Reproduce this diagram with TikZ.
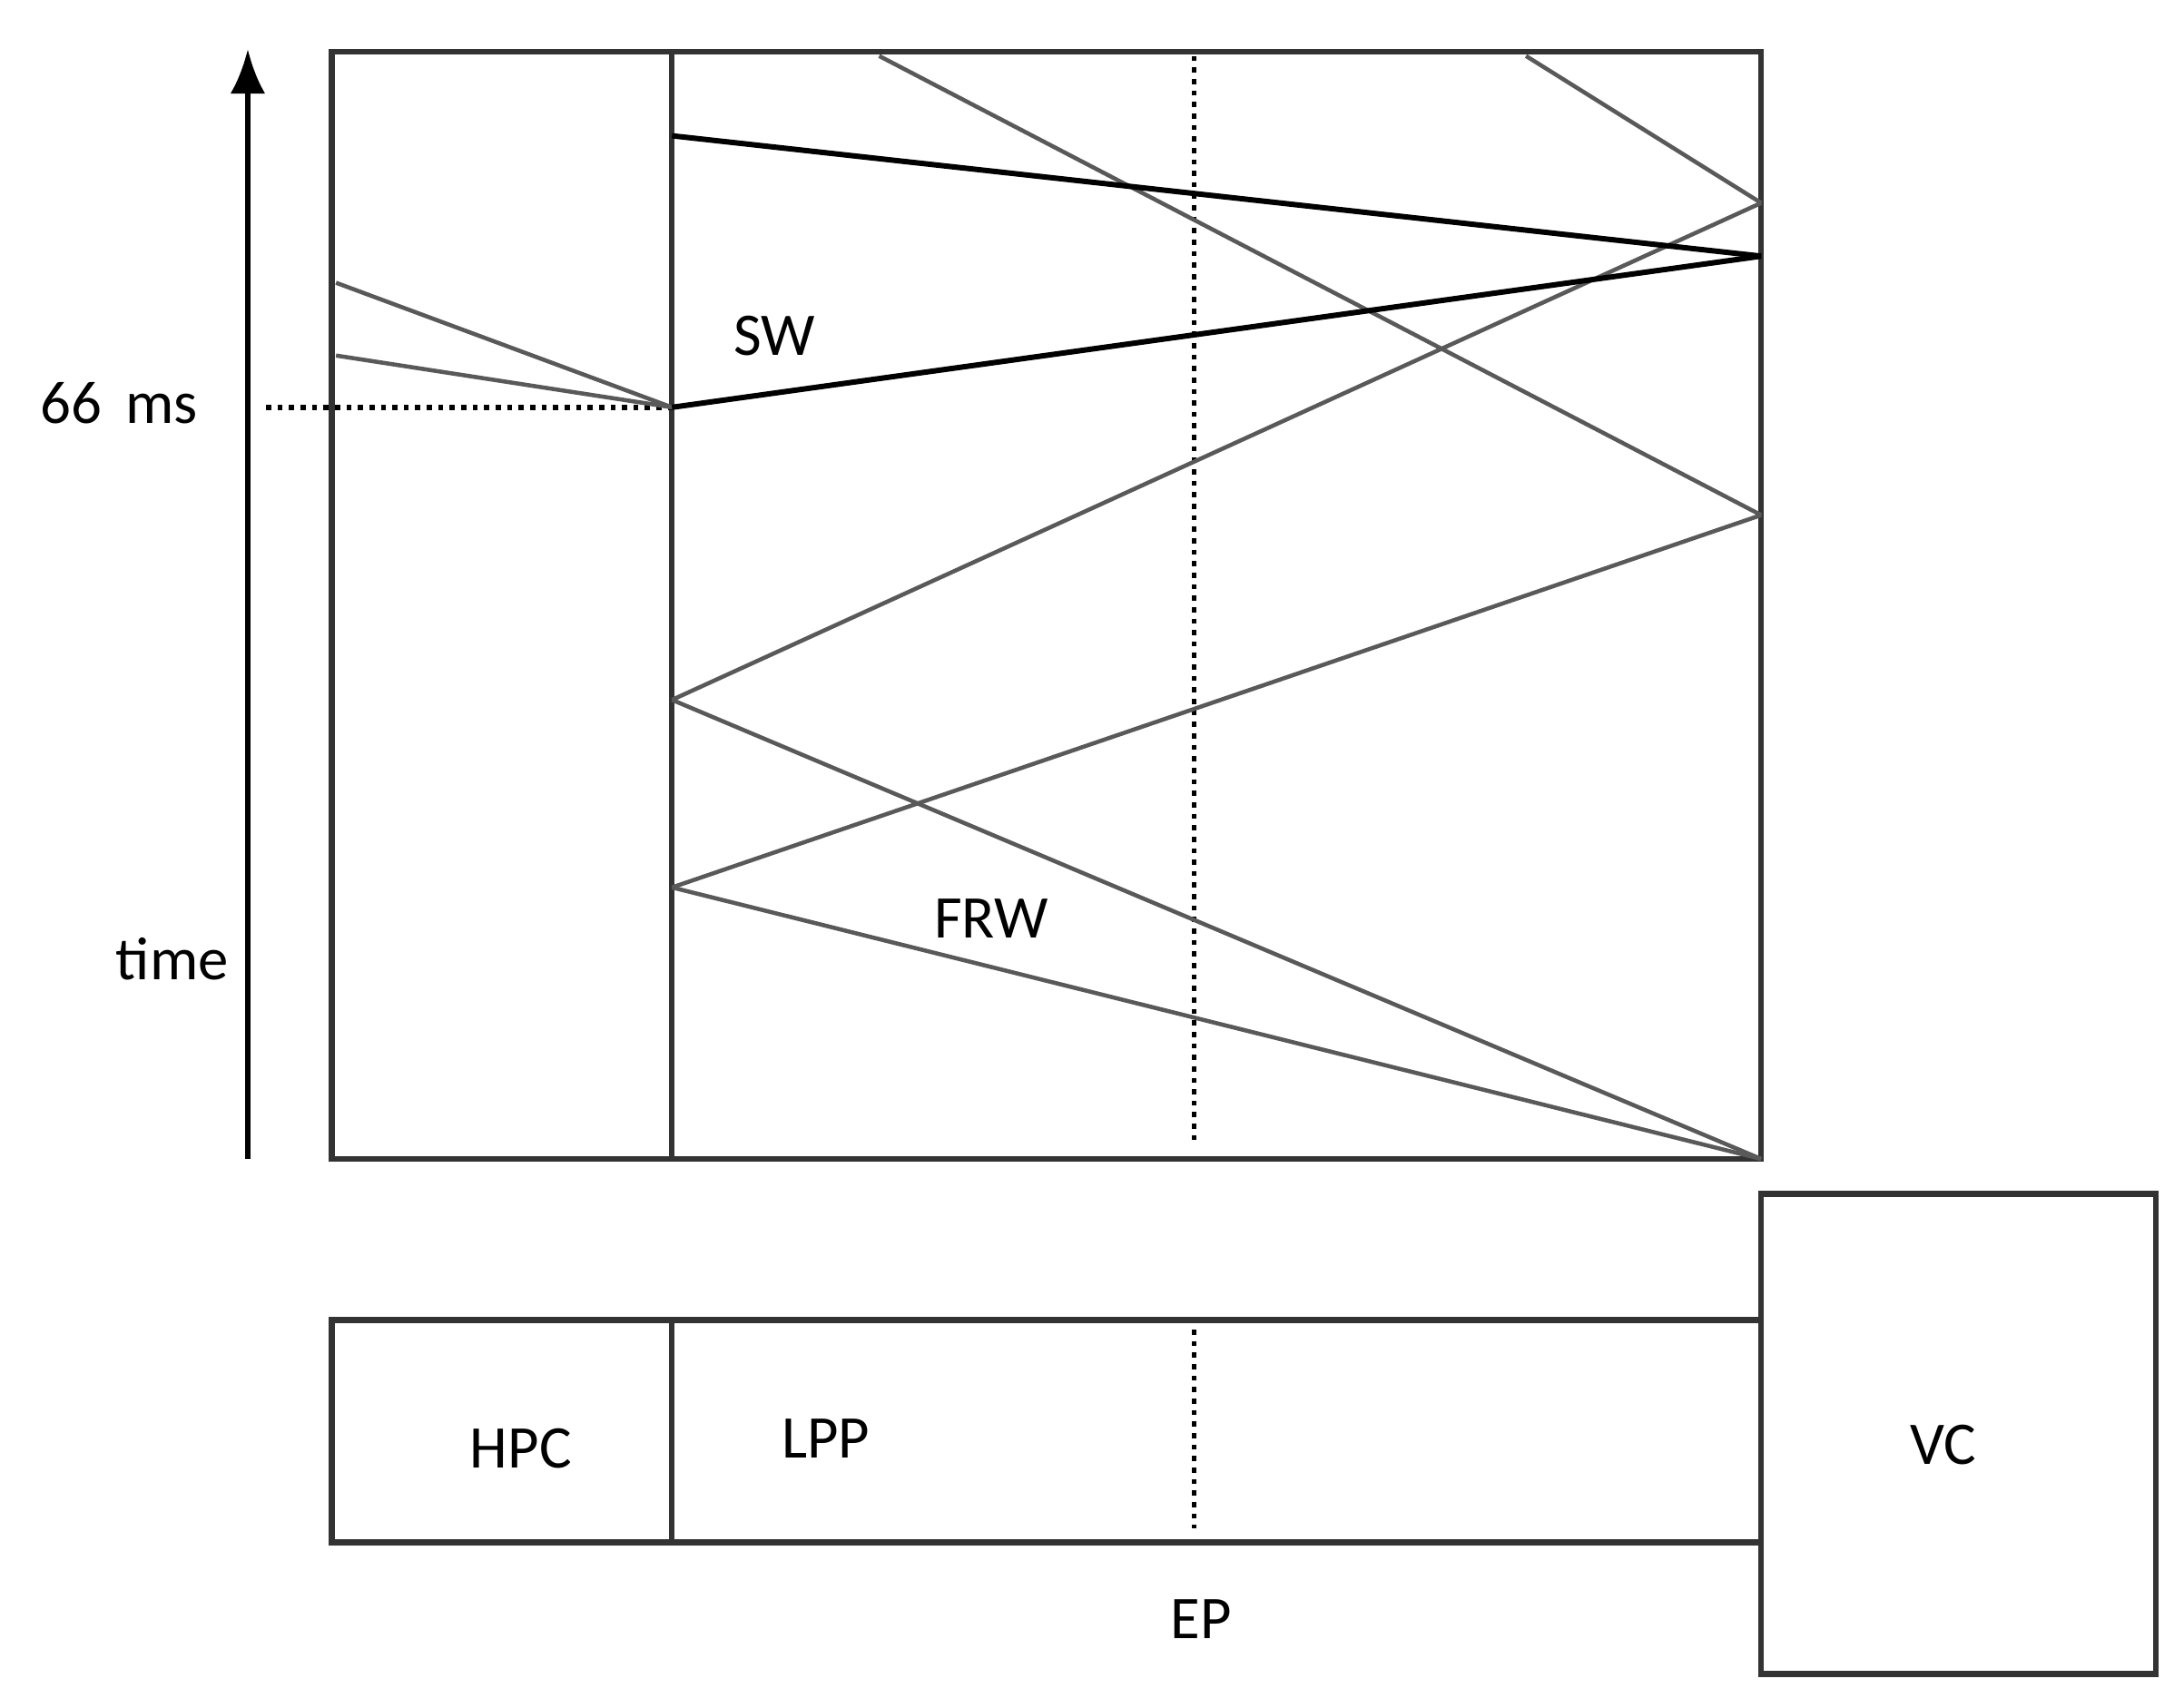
\documentclass[tikz,border=0pt]{standalone}
\usepackage{fontspec}
\setmainfont{Carlito}
\usetikzlibrary{arrows.meta,positioning,calc}

\begin{document}
\begin{tikzpicture}[x=0.01542cm,y=-0.01542cm,>=Latex,
  box/.style={line width=1.8pt,draw=black!80},
  ray/.style={line width=1.3pt,draw=black!65},
  wave/.style={line width=1.7pt,draw=black},
  dot/.style={line width=1.6pt,dotted},
  lbl/.style={font=\fontsize{19}{22}\selectfont}]
\useasboundingbox (0,0) rectangle (1560,1220);
% frame of the time plot
\draw[box] (237,37) rectangle (1258,828);
\draw[box] (480,37) -- (480,828);
\draw[dot] (853,40) -- (853,815);
% time axis
\coordinate (t0) at (177,828);
\coordinate (t1) at (177,35);
\draw[line width=1.8pt,->,>={Latex[length=14pt,width=11pt]}] (t0) -- (t1);
\node[lbl] (tm) at (123,685) {time};
\node[lbl] (ms) at (85,288) {66\hspace{0.4em}ms};
\coordinate (d0) at (190,291);
\coordinate (onset) at (480,291);
\draw[dot] (d0) -- (onset);
% points on the borders
\coordinate (l1) at (240,202);
\coordinate (l2) at (240,254);
\coordinate (s0) at (480,97);
\coordinate (a) at (480,500);
\coordinate (b) at (480,634);
\coordinate (top1) at (628,40);
\coordinate (top2) at (1090,40);
\coordinate (r1) at (1258,145);
\coordinate (r2) at (1258,183);
\coordinate (r3) at (1258,368);
\coordinate (r4) at (1258,828);
% rays
\foreach \p/\q in {l1/onset,l2/onset,top1/r3,top2/r1,a/r1,a/r4,b/r3,b/r4}
  \draw[ray] (\p) -- (\q);
% slow wave
\draw[wave] (onset) -- (r2);
\draw[wave] (s0) -- (r2);
\node[lbl] (sw) at (553,240) {SW};
\node[lbl] (frw) at (708,656) {FRW};
% cortex strip
\draw[box] (237,943) rectangle (1258,1102);
\draw[box] (480,943) -- (480,1102);
\draw[dot] (853,950) -- (853,1092);
\node[lbl] (hpc) at (372,1035) {HPC};
\node[lbl] (lpp) at (590,1028) {LPP};
\node[lbl] (ep) at (858,1157) {EP};
\draw[box] (1258,853) rectangle (1540,1196);
\node[lbl] (vc) at (1388,1032) {VC};
\end{tikzpicture}
\end{document}
